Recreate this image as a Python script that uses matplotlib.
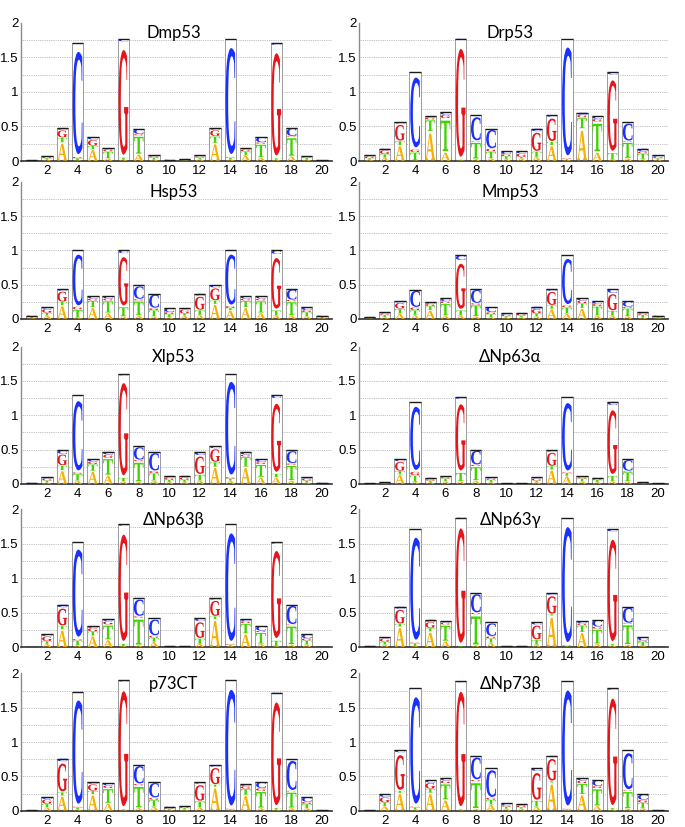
import matplotlib
matplotlib.use('Agg')
import matplotlib.pyplot as plt
from matplotlib.textpath import TextPath
from matplotlib.font_manager import FontProperties
from matplotlib.patches import PathPatch, Rectangle
from matplotlib.transforms import Affine2D

POSITIONS = list(range(1, 21))
XTICKS = [2, 4, 6, 8, 10, 12, 14, 16, 18, 20]
YTICKS = [0, 0.5, 1, 1.5, 2]
YTICK_LABELS = ['0', '0.5', '1', '1.5', '2']
GRID_LEVELS = [0.25, 0.5, 0.75, 1.0, 1.25, 1.5, 1.75]
PANEL_NAMES = ['Dmp53', 'Drp53', 'Hsp53', 'Mmp53', 'Xlp53', 'ΔNp63α',
               'ΔNp63β', 'ΔNp63γ', 'p73CT', 'ΔNp73β']

# letter heights (bits), stacking order bottom->top: A, T, G, C
DMP53_A = [.004, .02, .27, .01, .17, .04, .02, .10, .02, .005, .01, .03, .26, .02, .08, .05, .02, .07, .02, .004]
DMP53_T = [.003, .02, .07, .03, .05, .10, .03, .27, .03, .005, .01, .02, .10, .03, .06, .20, .02, .28, .03, .003]
DMP53_G = [.002, .02, .11, .02, .09, .03, 1.68, .02, .02, .005, .005, .02, .09, .01, .03, .02, 1.64, .01, .01, .002]
DMP53_C = [.002, .01, .03, 1.64, .04, .02, .03, .08, .01, .005, .005, .01, .03, 1.70, .02, .08, .02, .12, .01, .002]

DRP53_A = [.02, .05, .23, .01, .43, .13, .01, .03, .04, .03, .04, .06, .23, .02, .47, .13, .02, .04, .03, .02]
DRP53_T = [.02, .05, .06, .12, .17, .49, .01, .25, .10, .04, .02, .08, .05, .01, .16, .44, .10, .24, .08, .02]
DRP53_G = [.03, .06, .25, .04, .03, .05, 1.73, .01, .04, .03, .05, .29, .36, .01, .04, .04, 1.13, .01, .03, .02]
DRP53_C = [.01, .02, .02, 1.12, .02, .04, .02, .37, .29, .04, .03, .04, .02, 1.73, .03, .04, .04, .27, .04, .02]

HSP53_A = [.015, .05, .20, .02, .17, .09, .04, .05, .04, .03, .05, .06, .22, .13, .17, .09, .05, .05, .04, .015]
HSP53_T = [.015, .04, .05, .12, .10, .18, .14, .22, .09, .04, .03, .07, .05, .03, .10, .18, .08, .21, .06, .015]
HSP53_G = [.01, .06, .16, .04, .03, .03, .78, .02, .03, .03, .06, .21, .19, .03, .03, .03, .82, .02, .03, .01]
HSP53_C = [.01, .02, .03, .82, .03, .03, .04, .20, .21, .06, .02, .03, .03, .81, .03, .03, .05, .16, .04, .01]

MMP53_A = [.01, .03, .08, .06, .13, .05, .05, .04, .03, .02, .03, .04, .15, .08, .16, .05, .05, .04, .02, .01]
MMP53_T = [.01, .03, .07, .07, .06, .18, .08, .17, .04, .02, .02, .04, .05, .09, .07, .14, .07, .12, .04, .015]
MMP53_G = [.005, .02, .09, .04, .03, .03, .73, .02, .03, .02, .03, .07, .21, .03, .04, .03, .26, .02, .02, .01]
MMP53_C = [.005, .02, .02, .26, .03, .04, .07, .21, .08, .02, .01, .03, .03, .73, .03, .04, .06, .08, .02, .015]

XLP53_A = [.005, .02, .20, .05, .19, .13, .04, .03, .05, .03, .03, .05, .25, .05, .25, .10, .10, .05, .02, .005]
XLP53_T = [.005, .03, .07, .10, .10, .25, .05, .30, .11, .03, .03, .09, .07, .03, .15, .19, .05, .23, .03, .005]
XLP53_G = [.005, .03, .17, .02, .04, .05, 1.49, .02, .03, .03, .04, .28, .20, .02, .03, .03, 1.10, .02, .03, .005]
XLP53_C = [.005, .02, .05, 1.12, .03, .04, .02, .20, .28, .03, .02, .05, .03, 1.50, .04, .04, .04, .19, .02, .005]

DNP63A_A = [.003, .01, .14, .03, .03, .04, .04, .05, .03, .003, .003, .03, .21, .12, .04, .03, .04, .04, .01, .003]
DNP63A_T = [.003, .01, .05, .10, .02, .04, .13, .21, .03, .003, .003, .02, .05, .04, .04, .03, .08, .14, .01, .003]
DNP63A_G = [.002, .005, .14, .05, .02, .02, 1.07, .02, .02, .002, .002, .03, .21, .01, .02, .02, 1.03, .01, .005, .002]
DNP63A_C = [.002, .005, .03, 1.02, .02, .01, .02, .22, .02, .002, .002, .02, .02, 1.09, .01, .01, .05, .17, .005, .002]

DNP63B_A = [.003, .05, .26, .03, .17, .11, .02, .03, .08, .005, .005, .05, .41, .02, .20, .05, .02, .04, .04, .003]
DNP63B_T = [.003, .04, .05, .07, .06, .22, .03, .40, .06, .005, .005, .08, .04, .02, .15, .17, .08, .28, .06, .003]
DNP63B_G = [.002, .07, .27, .02, .05, .05, 1.71, .02, .03, .005, .005, .25, .24, .01, .03, .02, 1.40, .01, .03, .002]
DNP63B_C = [.002, .03, .04, 1.40, .03, .03, .02, .26, .25, .005, .005, .04, .02, 1.73, .03, .07, .02, .29, .06, .002]

DNP63G_A = [.005, .04, .30, .02, .23, .09, .01, .03, .07, .005, .005, .04, .46, .01, .22, .05, .03, .04, .02, .003]
DNP63G_T = [.005, .04, .04, .04, .05, .24, .01, .45, .06, .005, .005, .07, .02, .01, .10, .22, .02, .30, .06, .003]
DNP63G_G = [.005, .05, .22, .01, .09, .03, 1.84, .02, .03, .005, .005, .22, .28, .01, .03, .03, 1.63, .01, .02, .002]
DNP63G_C = [.005, .02, .03, 1.64, .03, .02, .02, .29, .20, .005, .005, .03, .03, 1.85, .03, .10, .03, .24, .05, .002]

P73CT_A = [.003, .05, .22, .02, .24, .11, .01, .04, .06, .015, .02, .05, .35, .01, .23, .04, .02, .04, .04, .003]
P73CT_T = [.003, .05, .05, .03, .05, .22, .01, .33, .10, .015, .02, .09, .03, .01, .09, .25, .02, .24, .06, .003]
P73CT_G = [.002, .07, .45, .01, .10, .04, 1.86, .02, .03, .015, .02, .25, .26, .01, .04, .04, 1.66, .01, .03, .002]
P73CT_C = [.002, .03, .04, 1.67, .03, .03, .02, .28, .23, .015, .01, .03, .02, 1.87, .03, .09, .02, .47, .07, .002]

DNP73B_A = [.003, .07, .26, .02, .26, .16, .01, .03, .09, .03, .03, .06, .41, .01, .24, .07, .02, .03, .04, .003]
DNP73B_T = [.003, .05, .03, .03, .06, .24, .01, .40, .07, .03, .02, .09, .02, .01, .16, .26, .02, .26, .08, .003]
DNP73B_G = [.002, .08, .56, .01, .09, .04, 1.85, .02, .03, .02, .03, .43, .35, .01, .04, .03, 1.72, .01, .04, .002]
DNP73B_C = [.002, .04, .03, 1.72, .04, .04, .02, .35, .43, .03, .02, .04, .02, 1.86, .04, .09, .02, .58, .08, .002]

PANEL_DATA = [
    (DMP53_A, DMP53_T, DMP53_G, DMP53_C),
    (DRP53_A, DRP53_T, DRP53_G, DRP53_C),
    (HSP53_A, HSP53_T, HSP53_G, HSP53_C),
    (MMP53_A, MMP53_T, MMP53_G, MMP53_C),
    (XLP53_A, XLP53_T, XLP53_G, XLP53_C),
    (DNP63A_A, DNP63A_T, DNP63A_G, DNP63A_C),
    (DNP63B_A, DNP63B_T, DNP63B_G, DNP63B_C),
    (DNP63G_A, DNP63G_T, DNP63G_G, DNP63G_C),
    (P73CT_A, P73CT_T, P73CT_G, P73CT_C),
    (DNP73B_A, DNP73B_T, DNP73B_G, DNP73B_C),
]
LETTERS = ['A', 'T', 'G', 'C']
COLORS = {'A': '#f5b000', 'T': '#3fd400', 'G': '#e8141c', 'C': '#1a30ff'}

FP = FontProperties(family='Liberation Serif', weight='bold')
GLYPHS = {L: TextPath((0, 0), L, size=1, prop=FP) for L in LETTERS}


def draw_letter(ax, L, x, y0, h, w):
    p = GLYPHS[L]
    bb = p.get_extents()
    gy0 = y0 + 0.025 * h
    gh = 0.9 * h
    t = (Affine2D().translate(-bb.x0, -bb.y0)
         .scale(w / bb.width, gh / bb.height)
         .translate(x - w / 2, gy0))
    ax.add_patch(PathPatch(t.transform_path(p), fc=COLORS[L], ec='none',
                           lw=0, zorder=3))


fig = plt.figure(figsize=(6.85, 8.27), dpi=100)

col_x = [(0.0307, 0.454), (0.524, 0.451)]
row_y = [(0.8053, 0.1673), (0.6143, 0.1657), (0.4148, 0.166),
         (0.2173, 0.1669), (0.0197, 0.1661)]

BOX_W = 0.74
GLYPH_W = 0.64
title_fp = ['Lato', 'DejaVu Sans']

for idx, (name, data) in enumerate(zip(PANEL_NAMES, PANEL_DATA)):
    r, c = divmod(idx, 2)
    x0, w = col_x[c]
    y0, h = row_y[r]
    ax = fig.add_axes([x0, y0, w, h])
    ax.set_xlim(0.3, 20.65)
    ax.set_ylim(0, 2.0)
    for g in GRID_LEVELS:
        ax.axhline(g, color='#a8a8a8', lw=0.6, ls=(0, (1, 1.2)), zorder=0)
    for i, pos in enumerate(POSITIONS):
        heights = [data[k][i] for k in range(4)]
        total = sum(heights)
        ax.add_patch(Rectangle((pos - BOX_W / 2, 0), BOX_W, total,
                               fc='white', ec='#8c8c8c', lw=0.6, zorder=2))
        base = 0.0
        for L, hh in zip(LETTERS, heights):
            draw_letter(ax, L, pos, base, hh, GLYPH_W)
            base += hh
        ax.plot([pos - BOX_W / 2, pos + BOX_W / 2], [total, total],
                color='#1a1a1a', lw=1.0, zorder=4, solid_capstyle='butt')
    ax.set_xticks(XTICKS)
    ax.set_xticklabels([str(t) for t in XTICKS], fontsize=9.5,
                       family='Liberation Sans')
    ax.set_yticks(YTICKS)
    ax.set_yticklabels(YTICK_LABELS, fontsize=9.5, family='Liberation Sans')
    ax.tick_params(axis='y', length=0, pad=1.5)
    ax.tick_params(axis='x', length=0, pad=3)
    ax.spines['top'].set_visible(False)
    ax.spines['right'].set_visible(False)
    ax.spines['left'].set_color('#8a8a8a')
    ax.spines['left'].set_linewidth(1.0)
    ax.spines['bottom'].set_color('#303030')
    ax.spines['bottom'].set_linewidth(1.2)
    ax.text(0.49, 0.925, name, transform=ax.transAxes, ha='center',
            va='center', fontsize=12, family=title_fp, zorder=5)

fig.savefig('out.png', dpi=100)
